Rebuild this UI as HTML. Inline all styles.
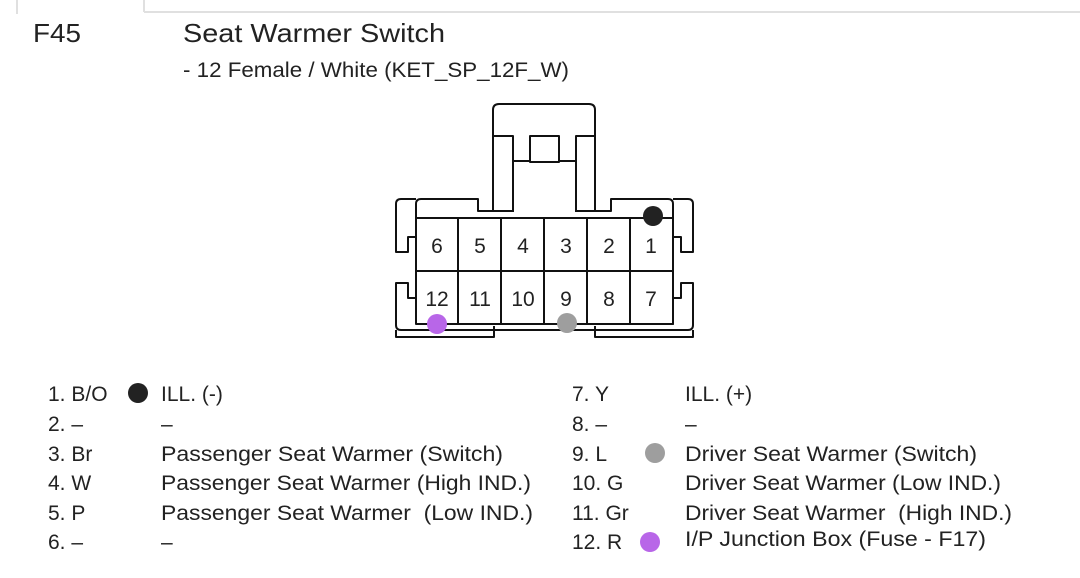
<!DOCTYPE html>
<html><head><meta charset="utf-8"><style>
html,body{margin:0;padding:0;background:#fff;}
svg{display:block;font-family:"Liberation Sans",Arial,sans-serif;}
</style></head><body>
<svg width="1080" height="578" viewBox="0 0 1080 578">
<g stroke="#e0e0e0" stroke-width="2" fill="none">
<line x1="17" y1="0" x2="17" y2="14"/>
<line x1="144" y1="0" x2="144" y2="12"/>
<line x1="144" y1="12" x2="1080" y2="12"/>
</g>
<g fill="#222">
<text x="33" y="42" font-size="26" textLength="48" lengthAdjust="spacingAndGlyphs">F45</text>
<text x="183" y="42" font-size="26" textLength="262" lengthAdjust="spacingAndGlyphs">Seat Warmer Switch</text>
<text x="183" y="77" font-size="21" textLength="386" lengthAdjust="spacingAndGlyphs">- 12 Female / White (KET_SP_12F_W)</text>
</g>
<g stroke="#111" stroke-width="2" fill="none" stroke-linejoin="round">
<path d="M493 212 V110 Q493 104 499 104 H589 Q595 104 595 110 V212"/>
<path d="M493 136 H513 V212 M595 136 H576 V212"/>
<rect x="530" y="136" width="29" height="26"/>
<path d="M513 161 H530 M559 161 H576"/>
<!-- outer body left -->
<path d="M416 199 H401 Q396 199 396 204 V252 H408 V237 H416"/>
<path d="M416 298 H408 V283 H396 V325 Q396 330 401 330 H416"/>
<!-- outer body right -->
<path d="M673 199 H688 Q693 199 693 204 V252 H681 V237 H673"/>
<path d="M673 298 H681 V283 H693 V325 Q693 330 688 330 H673"/>
<path d="M416 330 H673"/>
<path d="M396 330 V337 H494 V326 M693 330 V337 H595 V326"/>
<!-- inner body -->
<path d="M416 324 V204 Q416 199 421 199 H478 V211 H513 M576 211 H611 V199 H668 Q673 199 673 204 V324 H416"/>
<rect x="416" y="218" width="257" height="106"/>
<line x1="416" y1="271" x2="673" y2="271"/>
<line x1="458" y1="218" x2="458" y2="324"/>
<line x1="501" y1="218" x2="501" y2="324"/>
<line x1="544" y1="218" x2="544" y2="324"/>
<line x1="587" y1="218" x2="587" y2="324"/>
<line x1="630" y1="218" x2="630" y2="324"/>
</g>
<g fill="#222" font-size="21" text-anchor="middle">
<text x="437" y="253">6</text><text x="480" y="253">5</text><text x="523" y="253">4</text>
<text x="566" y="253">3</text><text x="609" y="253">2</text><text x="651" y="253">1</text>
<text x="437" y="306">12</text><text x="480" y="306">11</text><text x="523" y="306">10</text>
<text x="566" y="306">9</text><text x="609" y="306">8</text><text x="651" y="306">7</text>
</g>
<circle cx="653" cy="216" r="10" fill="#222"/>
<circle cx="437" cy="324" r="10" fill="#b866e8"/>
<circle cx="567" cy="323" r="10" fill="#9e9e9e"/>
<g fill="#222" font-size="21">
<text x="48" y="401">1. B/O</text><text x="161" y="401">ILL. (-)</text>
<text x="48" y="431">2. –</text><text x="161" y="431">–</text>
<text x="48" y="461">3. Br</text><text x="161" y="461" textLength="342" lengthAdjust="spacingAndGlyphs">Passenger Seat Warmer (Switch)</text>
<text x="48" y="490">4. W</text><text x="161" y="490" textLength="370" lengthAdjust="spacingAndGlyphs">Passenger Seat Warmer (High IND.)</text>
<text x="48" y="520">5. P</text><text x="161" y="520" textLength="372" lengthAdjust="spacingAndGlyphs" xml:space="preserve">Passenger Seat Warmer  (Low IND.)</text>
<text x="48" y="549">6. –</text><text x="161" y="549">–</text>
<text x="572" y="401">7. Y</text><text x="685" y="401">ILL. (+)</text>
<text x="572" y="431">8. –</text><text x="685" y="431">–</text>
<text x="572" y="461">9. L</text><text x="685" y="461" textLength="292" lengthAdjust="spacingAndGlyphs">Driver Seat Warmer (Switch)</text>
<text x="572" y="490">10. G</text><text x="685" y="490" textLength="316" lengthAdjust="spacingAndGlyphs">Driver Seat Warmer (Low IND.)</text>
<text x="572" y="520">11. Gr</text><text x="685" y="520" textLength="327" lengthAdjust="spacingAndGlyphs" xml:space="preserve">Driver Seat Warmer  (High IND.)</text>
<text x="572" y="549">12. R</text><text x="685" y="546" textLength="301" lengthAdjust="spacingAndGlyphs">I/P Junction Box (Fuse - F17)</text>
</g>
<circle cx="138" cy="393" r="10" fill="#222"/>
<circle cx="655" cy="453" r="10" fill="#9e9e9e"/>
<circle cx="650" cy="542" r="10" fill="#b866e8"/>
</svg>
</body></html>
